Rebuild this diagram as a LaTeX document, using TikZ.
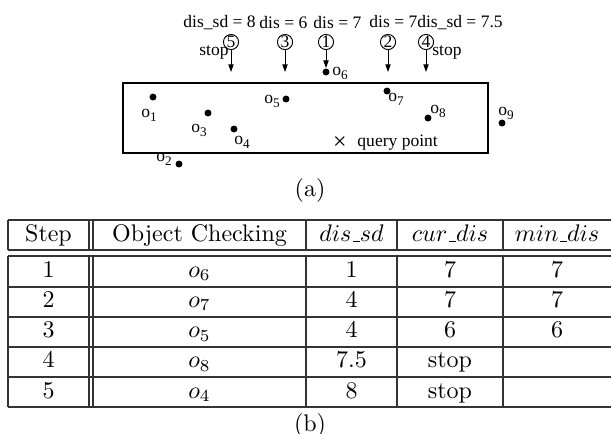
\documentclass[tikz,border=0pt]{standalone}
\usepackage{fontspec}
\newfontfamily\timesfont{Liberation Serif}
\usetikzlibrary{arrows.meta}
\newcommand{\osub}[1]{o\raisebox{-.5ex}{\fontsize{5.5}{6}\selectfont #1}}
\newcommand{\usc}{\kern.06em\vbox{\hrule width .3em}}

\begin{document}
\begin{tikzpicture}[x=.4167pt,y=-.4167pt,
  dot/.style={circle,fill,inner sep=0pt,minimum size=2.9pt},
  num/.style={circle,draw,line width=.4pt,inner sep=0pt,minimum size=6.3pt,font=\timesfont\fontsize{7.3}{8}\selectfont},
  lbl/.style={inner sep=0pt,font=\timesfont\fontsize{7.3}{8}\selectfont},
  rule/.style={line width=.45pt,black!80},
  cell/.style={anchor=base,inner sep=0pt}]
  \useasboundingbox (0,0) rectangle (611,433);
  % (a) space and objects
  \draw[line width=.55pt] (123,83) rectangle (488,153);
  \foreach \n/\x/\y/\lx/\ly in {1/153/97/149/115,2/179/164/164/159,3/208/113/199/130,
      4/234/129/242/142,5/286/99/272/101,6/326/72/340/73,7/387/91/396/99,
      8/428/118/438/111,9/502/123/506/113} {
    \node[dot] (o\n) at (\x,\y) {};
    \node[lbl] (lo\n) at (\lx,\ly) {\osub{\n}};
  }
  \node[lbl,font=\timesfont\fontsize{10}{10}\selectfont] (qp) at (340,143) {×};
  \node[lbl,anchor=west] (qtext) at (357,143) {query point};
  % search order
  \node[lbl,anchor=west] (d5) at (183,23) {dis\_sd = 8};
  \node[lbl,anchor=west] (d3) at (259,23) {dis = 6};
  \node[lbl,anchor=west] (d1) at (313,23) {dis = 7};
  \node[lbl,anchor=west] (d24) at (369,23) {dis = 7dis\_sd = 7.5};
  \foreach \k/\x in {5/231,3/285,1/326,2/388,4/426} {
    \node[num] (c\k) at (\x,42) {\k};
    \coordinate (t\k) at (\x,72);
  }
  \foreach \k in {5,3,2,4} \draw[-{Triangle[length=3.2pt,width=2.2pt]},line width=.4pt] (c\k) -- (t\k);
  \draw[-{Triangle[length=3.2pt,width=2.2pt]},line width=.4pt] (c1) -- (o6);
  \node[lbl] (stop5) at (214,52) {stop};
  \node[lbl] (stop4) at (447,52) {stop};
  \node (capa) at (310,190) {(a)};
  % (b) table
  \foreach \y in {220,250,256,287,317,347,377,407} \draw[rule] (8,\y) -- (611.5,\y);
  \foreach \x in {8,89,93,306,397,503,611.5} {
    \draw[rule] (\x,220) -- (\x,250);
    \draw[rule] (\x,256) -- (\x,407);
  }
  \node[cell] (hstep) at (48.5,241.5) {Step};
  \node[cell] (hobj) at (199.5,241.5) {Object Checking};
  \node[cell] (hsd) at (351.5,241.5) {$dis\usc sd$};
  \node[cell] (hcur) at (450,241.5) {$cur\usc dis$};
  \node[cell] (hmin) at (557,241.5) {$min\usc dis$};
  \foreach \o/\d/\c [count=\i] in {6/1/7,7/4/7,5/4/6,8/7.5/stop,4/8/stop} {
    \node[cell] (s\i) at (48.5,246.75+30.25*\i) {\i};
    \node[cell] (ob\i) at (199.5,246.75+30.25*\i) {$o_\o$};
    \node[cell] (sd\i) at (351.5,246.75+30.25*\i) {\d};
    \node[cell] (cd\i) at (450,246.75+30.25*\i) {\c};
  }
  \foreach \m [count=\i] in {7,7,6} \node[cell] (md\i) at (557,246.75+30.25*\i) {\m};
  \node (capb) at (310,425) {(b)};
\end{tikzpicture}
\end{document}
